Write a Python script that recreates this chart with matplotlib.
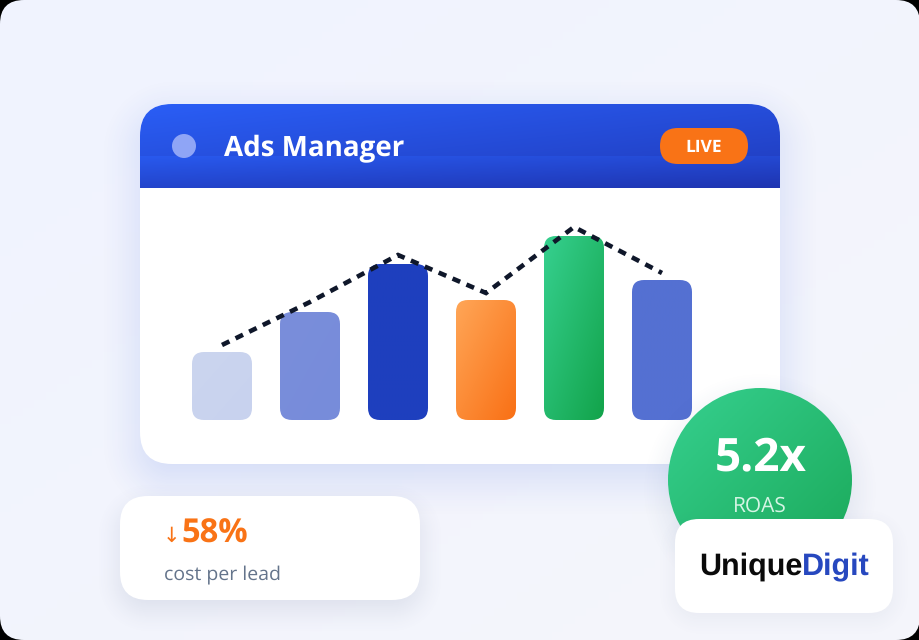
import numpy as np
import matplotlib
matplotlib.use("Agg")
import matplotlib.pyplot as plt
from matplotlib.colors import to_rgb
from matplotlib.patches import FancyBboxPatch, Circle

plt.rcParams['font.family'] = ['Open Sans', 'DejaVu Sans']
plt.rcParams['text.hinting'] = 'no_hinting'

# bar heights and trend line
categories = ["a", "b", "c", "d", "e", "f"]
bar_values = [68, 108, 156, 120, 184, 140]
line_values = [75, 118, 165, 127, 193, 147]
bar_start = ["#cbd5ef", "#7a8edb", "#1e40bf", "#ffa657", "#36d08f", "#5471d2"]
bar_end = ["#c8d2ee", "#778cda", "#1e3fbe", "#f97015", "#12a34a", "#5470d2"]

W, H = 920, 640


def rounded_sdf(x0, y0, x1, y1, r):
    # signed distance to a rounded box on the whole pixel grid
    yy, xx = np.mgrid[0:H, 0:W] + 0.5
    cx, cy = (x0 + x1) / 2, (y0 + y1) / 2
    dx = np.abs(xx - cx) - ((x1 - x0) / 2 - r)
    dy = np.abs(yy - cy) - ((y1 - y0) / 2 - r)
    outside = np.hypot(np.maximum(dx, 0), np.maximum(dy, 0))
    return outside + np.minimum(np.maximum(dx, dy), 0) - r


def shadow(ax, box, r, color, alpha, blur, offset):
    x0, y0, x1, y1 = box
    d = rounded_sdf(x0, y0 + offset, x1, y1 + offset, r)
    t = np.clip(0.5 - d / (2 * blur), 0, 1)
    a = alpha * t * t * (3 - 2 * t)
    img = np.zeros((H, W, 4))
    img[..., :3] = to_rgb(color)
    img[..., 3] = a
    ax.imshow(img, extent=(0, W, H, 0), aspect="auto", interpolation="bilinear")


def rbox(ax, x0, y0, x1, y1, r, **kw):
    p = FancyBboxPatch((x0, y0), x1 - x0, y1 - y0,
                       boxstyle=f"round,pad=0,rounding_size={r}", linewidth=0, **kw)
    ax.add_patch(p)
    return p


def diagonal(c0, c1, n=80):
    # top left to bottom right gradient
    v, u = np.mgrid[0:1:n * 1j, 0:1:n * 1j]
    t = ((u + v) / 2)[..., None]
    return np.array(to_rgb(c0)) * (1 - t) + np.array(to_rgb(c1)) * t


def pixel_axes(zorder):
    a = fig.add_axes([0, 0, 1, 1], zorder=zorder)
    a.set_xlim(0, W)
    a.set_ylim(H, 0)
    a.axis("off")
    return a


fig = plt.figure(figsize=(9.2, 6.4), dpi=100, facecolor="black")
ax = pixel_axes(1)

# page background
bg = rbox(ax, 0, 0, W, H, 24, facecolor="none")
im = ax.imshow(diagonal("#f0f3ff", "#f5f6fb"), extent=(0, W, H, 0), aspect="auto")
im.set_clip_path(bg)

# main card
shadow(ax, (140, 104, 780, 464), 32, "#2a57d8", 0.17, 44, 14)
card = rbox(ax, 140, 104, 780, 464, 32, facecolor="white")

rows = np.linspace(0, 1, 84)
cols = np.linspace(0, 1, 640)
shade = np.where(rows < 0.62, rows * 0.13, 0.03 + (rows - 0.62) * 0.36)[:, None]
lr = cols[None, :] * 0.11
head = np.stack([np.array([42, 94, 246])[i] - (shade + lr) * np.array([42, 150, 250])[i]
                 for i in range(3)], axis=-1) / 255
im = ax.imshow(np.clip(head, 0, 1), extent=(140, 780, 188, 104), aspect="auto", zorder=1.5)
im.set_clip_path(card)
ax.add_patch(Circle((184, 146), 12, facecolor="#8fa5f6", linewidth=0, zorder=2))
ax.text(224, 149, "Ads Manager", color="white", fontsize=20, fontweight="bold",
        ha="left", va="center", zorder=3)
rbox(ax, 660, 128, 748, 164, 18, facecolor="#f97316", zorder=2)
ax.text(704, 148, "LIVE", color="white", fontsize=12.5, fontweight="bold",
        ha="center", va="center", zorder=3)

# cost card
shadow(ax, (120, 496, 420, 600), 28, "#5a6a90", 0.15, 26, 10)
rbox(ax, 120, 496, 420, 600, 28, facecolor="white")
ax.text(171, 536, "↓", color="#f97316", fontsize=15, ha="center", va="center",
        family="DejaVu Sans")
ax.text(181, 534.5, "58%", color="#f97316", fontsize=23.5, fontweight="bold",
        ha="left", va="center")
ax.text(164, 575, "cost per lead", color="#64748b", fontsize=14, ha="left", va="center")

# bars and line, y in pixels above the baseline, one x unit per bar slot
chart = fig.add_axes([178 / W, 1 - 420 / H, 528 / W, 220 / H], zorder=2)
chart.set_xlim(-0.5, 5.5)
chart.set_ylim(0, 220)
chart.axis("off")
chart.patch.set_alpha(0)
xpos = np.arange(len(categories))
unit = 88
for x, v, c0, c1 in zip(xpos, bar_values, bar_start, bar_end):
    left = x - 30 / unit
    box = FancyBboxPatch((left, 0), 60 / unit, v, mutation_aspect=unit, linewidth=0,
                         boxstyle=f"round,pad=0,rounding_size={12 / unit}", facecolor="none")
    chart.add_patch(box)
    im = chart.imshow(diagonal(c0, c1), extent=(left, left + 60 / unit, 0, v), aspect="auto")
    im.set_clip_path(box)
chart.plot(xpos, line_values, color="#0f172a", lw=3.3, ls=(0, (1.8, 1.5)),
           dash_capstyle="butt", dash_joinstyle="miter", clip_on=False)
chart.set_xlim(-0.5, 5.5)
chart.set_ylim(0, 220)

# ROAS badge and logo sit over the chart
top = pixel_axes(3)
top.patch.set_alpha(0)
shadow(top, (668, 388, 852, 572), 92, "#3a5a90", 0.13, 30, 10)
disc = Circle((760, 480), 92, facecolor="none", linewidth=0)
top.add_patch(disc)
im = top.imshow(diagonal("#36d08f", "#1aa858"), extent=(668, 852, 572, 388), aspect="auto")
im.set_clip_path(disc)
top.text(760.5, 458, "5.2x", color="white", fontsize=33, fontweight="bold",
         ha="center", va="center")
top.text(760, 506, "ROAS", color="#d5f5e5", fontsize=15, ha="center", va="center")

shadow(top, (675, 519, 893, 613), 24, "#5a6a90", 0.08, 20, 6)
rbox(top, 675, 519, 893, 613, 24, facecolor="white")
top.text(699, 567, "Unique", color="#0a0a0a", fontsize=22, fontweight="bold",
         ha="left", va="center", family="Liberation Sans")
top.text(802, 567, "Digit", color="#2748bf", fontsize=22, fontweight="bold",
         ha="left", va="center", family="Liberation Sans")
top.set_xlim(0, W)
top.set_ylim(H, 0)

ax.set_xlim(0, W)
ax.set_ylim(H, 0)
fig.savefig("out.png", dpi=100, facecolor="black")
